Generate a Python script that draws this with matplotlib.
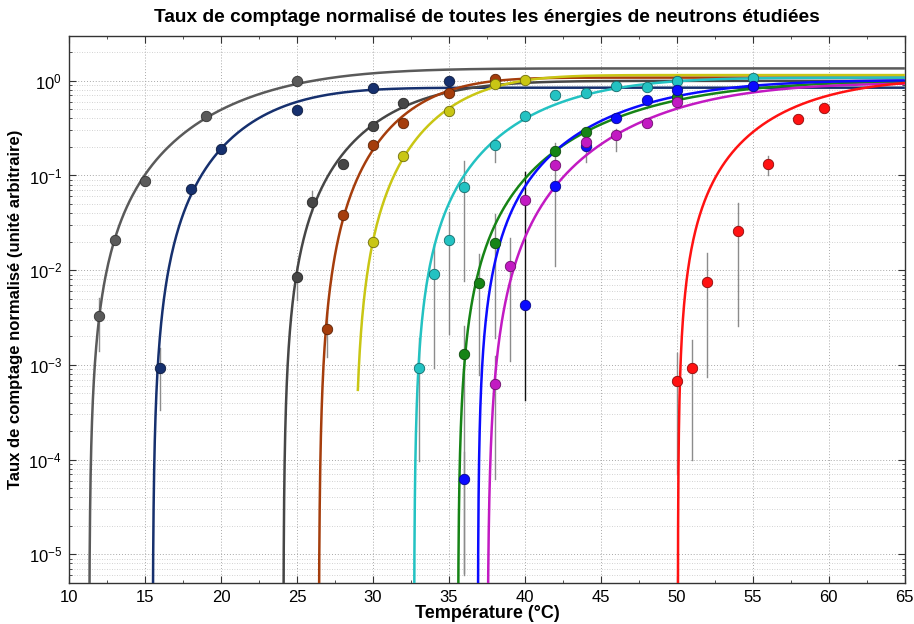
import numpy as np
import matplotlib
matplotlib.use("Agg")
import matplotlib.pyplot as plt
from matplotlib.ticker import LogLocator, MultipleLocator, NullFormatter

plt.rcParams['font.family'] = ['Liberation Sans', 'DejaVu Sans']

# ---------------- data ----------------
series_names = ["gray1", "navy", "gray2", "brown", "yellow", "cyan", "green", "blue", "magenta", "red"]
series_colors = ["#5a5a5a", "#16306e", "#464646", "#a53d0c", "#c9c614", "#23c2c2", "#168416", "#0b0bff", "#c21ac2", "#ff1212"]

gray1_T = [12, 13, 15, 19, 25]
gray1_y = [3.3e-3, 0.021, 0.088, 0.42, 1.0]
navy_T = [16, 18, 20, 25, 30, 35]
navy_y = [9.3e-4, 0.072, 0.19, 0.49, 0.84, 1.0]
gray2_T = [25, 26, 28, 30, 32]
gray2_y = [8.5e-3, 0.053, 0.131, 0.335, 0.58]
brown_T = [27, 28, 30, 32, 35, 38]
brown_y = [2.4e-3, 0.038, 0.21, 0.36, 0.75, 1.05]
yellow_T = [30, 32, 35, 38, 40]
yellow_y = [0.02, 0.16, 0.48, 0.93, 1.02]
cyan_T = [33, 34, 35, 36, 38, 40, 42, 44, 46, 48, 50, 55]
cyan_y = [9.3e-4, 9.2e-3, 0.021, 0.076, 0.21, 0.42, 0.71, 0.75, 0.88, 0.85, 1.0, 1.07]
green_T = [36, 37, 38, 42, 44, 50]
green_y = [1.3e-3, 7.4e-3, 0.0193, 0.183, 0.29, 0.68]
blue_T = [36, 40, 42, 44, 46, 48, 50, 55]
blue_y = [6.3e-5, 4.3e-3, 0.077, 0.206, 0.406, 0.63, 0.80, 0.89]
magenta_T = [38, 39, 40, 42, 44, 46, 48, 50]
magenta_y = [6.3e-4, 0.011, 0.055, 0.129, 0.228, 0.268, 0.36, 0.60]
red_T = [50, 51, 52, 54, 56, 58, 59.7]
red_y = [6.7e-4, 9.3e-4, 7.5e-3, 0.026, 0.133, 0.39, 0.51]

# error bars: series index, temperature, lower and upper ends
err_series = [0, 1, 2, 2, 3, 5, 5, 5, 5, 5, 6, 6, 6, 7, 7, 8, 8, 8, 8, 8, 9, 9, 9, 9, 9]
err_T = [12, 16, 25, 26, 27, 33, 34, 35, 36, 38, 36, 37, 38, 36, 40, 38, 39, 42, 44, 46, 50, 51, 52, 54, 56]
err_lo = [1.4e-3, 3.3e-4, 4.9e-3, 0.042, 1.2e-3, 9.6e-5, 9.3e-4, 2.1e-3, 7.7e-3, 0.14, 6e-6, 7.9e-4, 1.9e-3,
          6.3e-6, 4.3e-4, 6.3e-5, 1.1e-3, 0.011, 0.14, 0.18, 7e-5, 1e-4, 7.4e-4, 2.6e-3, 0.10]
err_hi = [5.1e-3, 1.5e-3, 0.011, 0.069, 3.6e-3, 1.9e-3, 0.019, 0.041, 0.143, 0.23, 2.6e-3, 0.0147, 0.039,
          1.2e-4, 0.108, 1.25e-3, 0.022, 0.22, 0.25, 0.31, 1.35e-3, 1.85e-3, 0.015, 0.051, 0.16]

# fitted-curve parameters: plateau, threshold temperature, width, exponent, start of drawn curve
fit_A = [1.35, 0.845, 0.997, 1.08, 1.148, 1.08, 0.997, 1.018, 0.946, 1.07]
fit_T0 = [11.32, 15.50, 24.10, 26.43, 28.78, 32.70, 35.59, 36.90, 37.53, 50.06]
fit_tau = [12.74, 8.6, 9.10, 7.6, 7.95, 10.9, 14.57, 12.31, 14.09, 9.6]
fit_n = [2.05, 2.1, 2.0, 2.2, 2.15, 1.95, 1.95, 1.85, 2.15, 1.75]
fit_start = [None, None, None, None, 29.0, None, None, None, None, None]

x_ticks = [10, 15, 20, 25, 30, 35, 40, 45, 50, 55, 60, 65]

title = "Taux de comptage normalisé de toutes les énergies de neutrons étudiées"
xlabel = "Température (°C)"
ylabel = "Taux de comptage normalisé (unité arbitraire)"

series_T = [gray1_T, navy_T, gray2_T, brown_T, yellow_T, cyan_T, green_T, blue_T, magenta_T, red_T]
series_y = [gray1_y, navy_y, gray2_y, brown_y, yellow_y, cyan_y, green_y, blue_y, magenta_y, red_y]

# ---------------- figure ----------------
fig = plt.figure(figsize=(9.14, 6.24), dpi=100)
ax = fig.add_axes([0.0755, 0.066, 0.9145, 0.877])
ax.set_yscale('log')
ax.set_xlim(10, 65)
ax.set_ylim(5e-6, 3)


def darker(c, f=0.55):
    r, g, b = matplotlib.colors.to_rgb(c)
    return (r * f, g * f, b * f)


# error bars
for s, t, lo, hi in zip(err_series, err_T, err_lo, err_hi):
    col = "#111111" if (s == 7 and t == 40) else "#8c8c8c"
    ax.plot([t, t], [lo, hi], color=col, lw=1.0, zorder=2)

# fitted curves
for i in range(len(series_names)):
    t0 = fit_T0[i]
    start = fit_start[i] if fit_start[i] is not None else t0 + 1e-5
    T = np.concatenate([t0 + np.logspace(-5, 0, 400), np.linspace(t0 + 1.0, 65, 600)])
    T = T[(T >= start) & (T <= 65)]
    g = ((T - t0) / fit_tau[i]) ** fit_n[i]
    y = fit_A[i] * (-np.expm1(-g))
    ax.plot(T, y, color=series_colors[i], lw=1.8, zorder=3, solid_capstyle='butt')

# measured points
for i in range(len(series_names)):
    ax.plot(series_T[i], series_y[i], 'o', ms=7.5, color=series_colors[i],
            mec=darker(series_colors[i]), mew=0.6, zorder=4)

ax.set_xticks(x_ticks)
ax.xaxis.set_minor_locator(MultipleLocator(2.5))
ax.yaxis.set_major_locator(LogLocator(base=10, numticks=20))
ax.yaxis.set_minor_locator(LogLocator(base=10, subs=np.arange(2, 10), numticks=100))
ax.yaxis.set_minor_formatter(NullFormatter())

ax.grid(True, which='major', axis='both', ls=(0, (1, 2)), color='#a8a8a8', lw=0.7)
ax.grid(True, which='minor', axis='y', ls=(0, (1, 2)), color='#c4c4c4', lw=0.6)
ax.set_axisbelow(True)

ax.tick_params(which='both', direction='in', top=True, right=True, color='#333333')
ax.tick_params(which='major', length=5, labelsize=12, pad=5)
ax.tick_params(which='minor', length=2.5)
for sp in ax.spines.values():
    sp.set_color('#333333')
    sp.set_linewidth(1.0)

ax.set_title(title, fontsize=13.8, fontweight='bold', pad=10)
ax.set_xlabel(xlabel, fontsize=13, fontweight='bold', labelpad=0)
ax.set_ylabel(ylabel, fontsize=12, fontweight='bold', labelpad=4)

fig.savefig("out.png", dpi=100)
